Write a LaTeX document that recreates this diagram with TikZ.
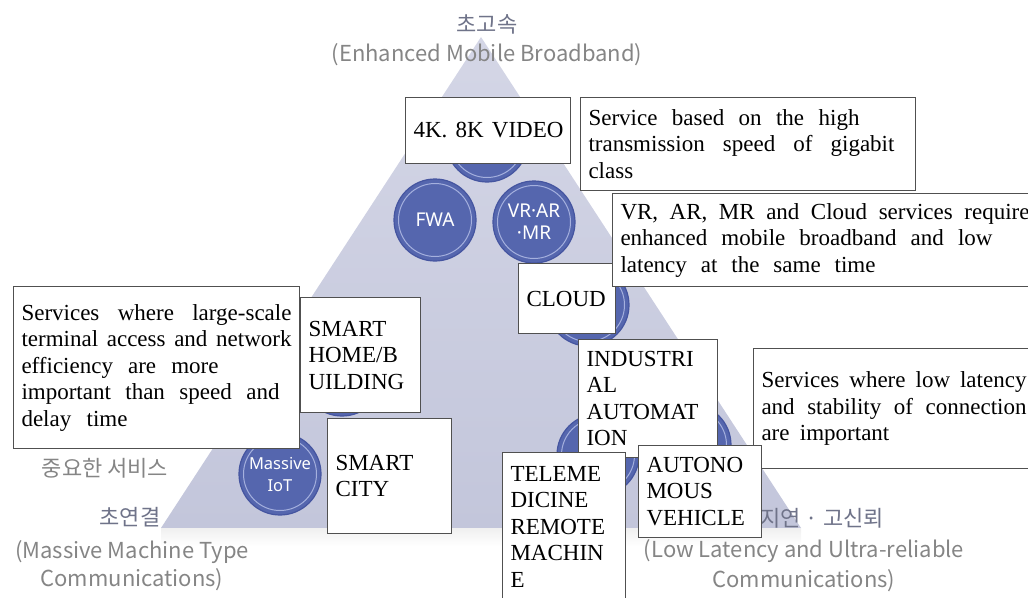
\documentclass[tikz,border=0pt]{standalone}
\usepackage{fontspec}
\setmainfont{Liberation Serif}
\newfontfamily\krfont{Noto Sans CJK KR}
\newfontfamily\lblfont{Noto Sans}

\definecolor{triTop}{HTML}{D4D6E6}
\definecolor{triBot}{HTML}{C3C6DB}
\definecolor{svcFill}{HTML}{5566AE}
\definecolor{svcRim}{HTML}{4555A0}
\definecolor{svcRing}{HTML}{A5B0DE}
\definecolor{capGray}{HTML}{858585}
\definecolor{headGray}{HTML}{6F7389}
\definecolor{boxLine}{HTML}{505050}

\newcommand\boxfont{\fontsize{23}{26.5}\selectfont}
\newcommand\wordgap{\spaceskip=0.45em plus 0.8em minus 0.1em\relax}
\newcommand\fitline[2][\linewidth]{\makebox[#1][s]{#2}}

\begin{document}
\begin{tikzpicture}[x=1pt, y=-1pt,
  svc/.style={circle, draw=svcRim, line width=1.2pt, fill=svcFill, minimum size=82pt, inner sep=0pt,
    text=white, align=center, font=\lblfont\fontsize{19}{22}\selectfont,
    path picture={\draw[svcRing, line width=1pt] (path picture bounding box.center) circle (36.5pt);}},
  txtbox/.style={draw=boxLine, line width=1pt, fill=white, anchor=north west, align=left,
    inner xsep=8pt, inner ysep=2pt, font=\boxfont, execute at begin node=\wordgap},
  headline/.style={text=headGray, font=\krfont\fontsize{22}{24}\selectfont},
  capline/.style={text=capGray, font=\krfont\fontsize{22}{24}\selectfont}]

  \useasboundingbox (0,0) rectangle (1028,597);

  % triangle
  \shade[top color=triTop, bottom color=triBot] (481,37) -- (801,528) -- (161,528) -- cycle;
  \shade[top color=black!6, bottom color=white] (161,528) rectangle (801,546);

  \node[svc] (video) at (487,141) {};
  \node[svc] (fwa) at (435,220) {FWA};
  \node[svc] (xr) at (534,222) {VR·AR\\·MR};
  \node[svc] (cloud) at (588,305) {};
  \node[svc] (home) at (342,375) {};
  \node[svc, font=\lblfont\fontsize{16.5}{22}\selectfont] (miot) at (280,474) {Massive\\IoT};
  \node[svc] (factory) at (598,455) {};
  \node[svc] (car) at (690,445) {};

  \node[headline] (embbKo) at (487,24) {초고속};
  \node[capline] (embbEn) at (487,55) {(Enhanced Mobile Broadband)};
  \node[capline] (mmtcNote) at (105,468) {중요한 서비스};
  \node[headline] (mmtcKo) at (130,517) {초연결};
  \node[capline] (mmtcEn1) at (132,552) {(Massive Machine Type};
  \node[capline] (mmtcEn2) at (132,580) {Communications)};
  \node[headline, anchor=west] (urllcKo) at (757,518) {지연 · 고신뢰};
  \node[capline] (urllcEn1) at (804,551) {(Low Latency and Ultra-reliable};
  \node[capline] (urllcEn2) at (804,581) {Communications)};

  \node[txtbox, text width=149pt, minimum height=66pt] (videoBox) at (405,97) {\fitline[150pt]{4K. 8K VIDEO}};
  \node[txtbox, text width=319pt, minimum height=93pt, inner ysep=6pt] (speedBox) at (580,97)
    {\fitline[271pt]{Service based on the high}\\ \fitline[306pt]{transmission speed of gigabit}\\ class};
  \node[txtbox, text width=81pt, minimum height=70pt] (cloudBox) at (518,263) {CLOUD};
  \node[txtbox, text width=412pt, minimum height=93pt] (xrBox) at (612,193)
    {\fitline[409pt]{VR, AR, MR and Cloud services require}\\ \fitline[372pt]{enhanced mobile broadband and low}\\
     \fitline[255pt]{latency at the same time}};
  \node[txtbox, text width=270pt, minimum height=162pt] (mmtcBox) at (13,286)
    {\fitline{Services where large-scale}\\ \fitline{terminal access and network}\\ \fitline[197pt]{efficiency are more}\\
     \fitline[258pt]{important than speed and}\\ \fitline[106pt]{delay time}};
  \node[txtbox, text width=104pt, minimum height=115pt] (homeBox) at (300,297) {SMART\\ HOME/B\\ UILDING};
  \node[txtbox, text width=108pt, minimum height=115pt] (cityBox) at (327,418) {SMART\\ CITY};
  \node[txtbox, text width=123pt, minimum height=118pt] (factoryBox) at (578,339) {INDUSTRI\\ AL\\ AUTOMAT\\ ION};
  \node[txtbox, text width=271pt, minimum height=120pt] (urllcBox) at (753,348)
    {\fitline[265pt]{Services where low latency}\\ \fitline[265pt]{and stability of connection}\\ are important};
  \node[txtbox, text width=107pt, minimum height=148pt] (medBox) at (502,452)
    {TELEME\\ DICINE\\ REMOTE\\ MACHIN\\ E};
  \node[txtbox, text width=107pt, minimum height=92pt] (carBox) at (638,445) {AUTONO\\ MOUS\\ VEHICLE};

\end{tikzpicture}
\end{document}
